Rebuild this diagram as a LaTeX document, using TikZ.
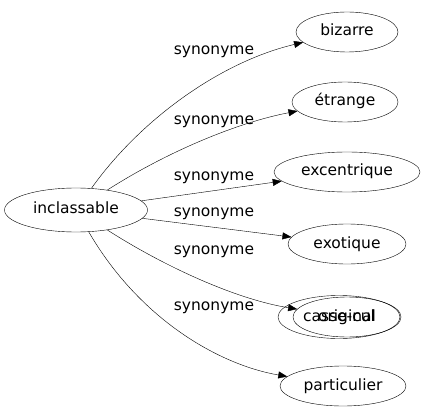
\documentclass[tikz,border=0pt]{standalone}
\usepackage{fontspec}
\setmainfont{DejaVu Sans}
\usetikzlibrary{shapes.geometric,arrows.meta}

\begin{document}
\begin{tikzpicture}[
    x=1pt, y=-1pt,
    every node/.style={font=\fontsize{15.5}{18}\selectfont},
    word/.style={ellipse, draw, inner sep=0pt, minimum height=40pt, text height=11.5pt, text depth=3.5pt},
    lab/.style={inner sep=0pt},
    syn/.style={-{Triangle[length=9pt,width=7pt]}},
]
\useasboundingbox (0,0) rectangle (427,419);
\node[word, minimum width=143pt, minimum height=44pt] (inclassable) at (76,210) {inclassable};
\node[word, minimum width=102pt] (bizarre) at (347,32) {bizarre};
\node[word, minimum width=106pt] (etrange) at (345,102) {étrange};
\node[word, minimum width=146pt] (excentrique) at (347,172) {excentrique};
\node[word, minimum width=118pt] (exotique) at (347,244) {exotique};
\node[word, minimum width=122pt, minimum height=43pt] (cassecul) at (339,317) {casse-cul};
\node[word, minimum width=108pt] (original) at (347,317) {original};
\node[word, minimum width=126pt] (particulier) at (343,386) {particulier};
\foreach \y [count=\i] in {52,122,178,214,252,308}
  \node[lab] (lab\i) at (214,\y) {synonyme};
\draw[syn] (inclassable) .. controls (140,120) and (220,62) .. (bizarre);
\draw[syn] (inclassable) .. controls (170,150) and (240,122) .. (etrange);
\draw[syn] (inclassable) -- (excentrique);
\draw[syn] (inclassable) -- (exotique);
\draw[syn] (inclassable) .. controls (170,270) and (240,300) .. (original);
\draw[syn] (inclassable) .. controls (140,320) and (220,365) .. (particulier);
\end{tikzpicture}
\end{document}
